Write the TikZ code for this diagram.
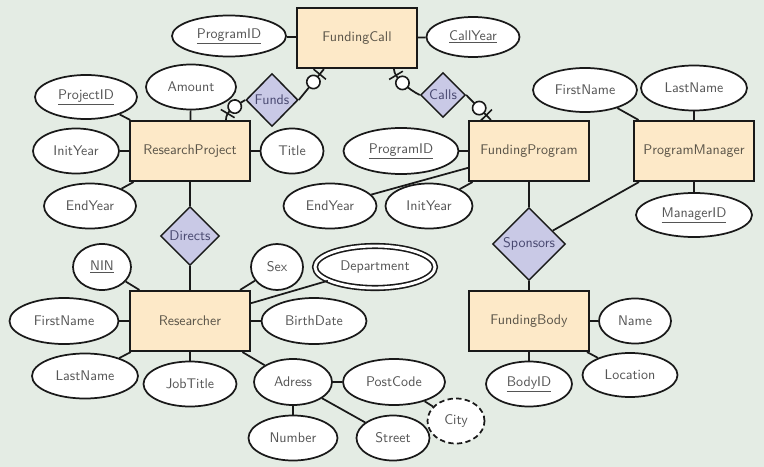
\documentclass[tikz,border=0pt]{standalone}
\usetikzlibrary{shapes.geometric,calc,decorations.markings}
\definecolor{bgc}{RGB}{228,236,228}
\definecolor{entfill}{RGB}{253,233,200}
\definecolor{relfill}{RGB}{201,201,230}
\definecolor{txtc}{RGB}{85,85,85}
\definecolor{enttxt}{RGB}{90,84,72}
\definecolor{reltxt}{RGB}{72,72,112}
\definecolor{linec}{RGB}{25,25,25}
\tikzset{
  every node/.style={font=\sffamily\fontsize{10.5}{12.5}\selectfont},
  entity/.style={rectangle, draw=linec, line width=1.6pt, fill=entfill, text=enttxt,
    minimum width=90pt, minimum height=45pt, inner sep=0pt},
  rel/.style 2 args={diamond, draw=linec, line width=1.1pt, fill=relfill, text=reltxt,
    minimum width=#1*0.75pt, minimum height=#2*0.75pt, inner sep=0pt},
  attr/.style 2 args={ellipse, draw=linec, line width=1.3pt, fill=white, text=txtc,
    minimum width=#1*0.75pt, minimum height=#2*0.75pt, inner sep=0pt},
  multi/.style={double=white, double distance=2.2pt, line width=1.2pt},
  derived/.style={dashed, dash pattern=on 4pt off 2.5pt},
  conn/.style={draw=linec, line width=1.3pt},
  zo/.style={conn, postaction={decorate}, decoration={markings,
    mark=at position -12.5pt with {\draw[linec, line width=1.2pt, fill=white] (0,0) circle (5pt);},
    mark=at position -5pt with {\draw[linec, line width=1.2pt] (0,-6pt) -- (0,6pt);}}}
}
\begin{document}
\begin{tikzpicture}[x=0.75pt, y=-0.75pt]
\fill[bgc] (0,0) rectangle (764,467);
\useasboundingbox (0,0) rectangle (764,467);

% entities
\node[entity] (fc) at (357,38) {FundingCall};
\node[entity] (rp) at (190,151) {ResearchProject};
\node[entity] (fp) at (529,151) {FundingProgram};
\node[entity] (pm) at (694,151) {ProgramManager};
\node[entity] (rs) at (190,321) {Researcher};
\node[entity] (fb) at (529,321) {FundingBody};

% relationships
\node[rel={52}{53}] (funds) at (272,100) {Funds};
\node[rel={45}{45}] (calls) at (443,95) {Calls};
\node[rel={59}{59}] (directs) at (190,236) {Directs};
\node[rel={73}{73}] (sponsors) at (529,244) {Sponsors};

% attributes
\node[attr={114}{41}] (fcpid) at (229,36) {\underline{ProgramID}};
\node[attr={93}{40}] (fcyear) at (473,37) {\underline{CallYear}};
\node[attr={102}{44}] (rpid) at (86,97) {\underline{ProjectID}};
\node[attr={90}{45}] (amount) at (191,87) {Amount};
\node[attr={86}{45}] (rpinit) at (76,151) {InitYear};
\node[attr={63}{45}] (title) at (292,151) {Title};
\node[attr={92}{45}] (rpend) at (90,206) {EndYear};
\node[attr={115}{46}] (fppid) at (401,151) {\underline{ProgramID}};
\node[attr={93}{45}] (fpend) at (330,206) {EndYear};
\node[attr={87}{45}] (fpinit) at (429,206) {InitYear};
\node[attr={104}{44}] (pmfirst) at (585,90) {FirstName};
\node[attr={106}{45}] (pmlast) at (694,88) {LastName};
\node[attr={116}{44}] (mid) at (694,215) {\underline{ManagerID}};
\node[attr={58}{46}] (nin) at (102,267) {\underline{NIN}};
\node[attr={52}{46}] (sex) at (277,267) {Sex};
\node[attr={120}{42}, multi] (dept) at (375,267) {Department};
\node[attr={109}{46}] (rsfirst) at (64,321) {FirstName};
\node[attr={105}{46}] (birth) at (314,321) {BirthDate};
\node[attr={106}{45}] (rslast) at (85,376) {LastName};
\node[attr={93}{45}] (job) at (190,384) {JobTitle};
\node[attr={78}{46}] (adr) at (293,382) {Adress};
\node[attr={102}{46}] (post) at (394,382) {PostCode};
\node[attr={89}{45}] (num) at (293,438) {Number};
\node[attr={73}{45}] (street) at (393,438) {Street};
\node[attr={57}{45}, derived] (city) at (456,421) {City};
\node[attr={72}{45}] (name) at (635,321) {Name};
\node[attr={95}{44}] (loc) at (630,375) {Location};
\node[attr={86}{45}] (bid) at (529,384) {\underline{BodyID}};

% attribute connectors
\draw[conn] (fcpid) -- (fc);
\draw[conn] (fc) -- (fcyear);
\draw[conn] (rpid) -- (rp);
\draw[conn] (amount) -- (rp);
\draw[conn] (rpinit) -- (rp);
\draw[conn] (title) -- (rp);
\draw[conn] (rpend) -- (rp);
\draw[conn] (fppid) -- (fp);
\draw[conn] (fpend) -- (fp);
\draw[conn] (fpinit) -- (fp);
\draw[conn] (pmfirst) -- (pm);
\draw[conn] (pmlast) -- (pm);
\draw[conn] (pm) -- (mid);
\draw[conn] (nin) -- (rs);
\draw[conn] (sex) -- (rs);
\draw[conn] (dept) -- (rs);
\draw[conn] (rsfirst) -- (rs);
\draw[conn] (birth) -- (rs);
\draw[conn] (rslast) -- (rs);
\draw[conn] (job) -- (rs);
\draw[conn] (adr) -- (rs);
\draw[conn] (adr) -- (post);
\draw[conn] (adr) -- (num);
\draw[conn] (adr) -- (street);
\draw[conn] (post) -- (city);
\draw[conn] (fb) -- (name);
\draw[conn] (fb) -- (loc);
\draw[conn] (fb) -- (bid);

% relationship connectors
\draw[conn] (rp) -- (directs);
\draw[conn] (directs) -- (rs);
\draw[conn] (fp) -- (sponsors);
\draw[conn] (sponsors) -- (fb);
\draw[conn] (sponsors) -- (pm);
\coordinate (fcL) at ($(fc.south west)+(28,0)$);
\coordinate (fcR) at ($(fc.south west)+(98,0)$);
\coordinate (rpT) at ($(rp.north west)+(97,0)$);
\coordinate (fpT) at ($(fp.north west)+(23,0)$);
\draw[zo] (funds.east) -- (fcL);
\draw[zo] (funds.west) .. controls ($(funds.west)+(-10,6)$) and ($(rpT)+(0,-9)$) .. (rpT);
\draw[zo] (calls.west) .. controls ($(calls.west)+(-10,-5)$) and ($(fcR)+(0,9)$) .. (fcR);
\draw[zo] (calls.east) -- (fpT);
\end{tikzpicture}
\end{document}
